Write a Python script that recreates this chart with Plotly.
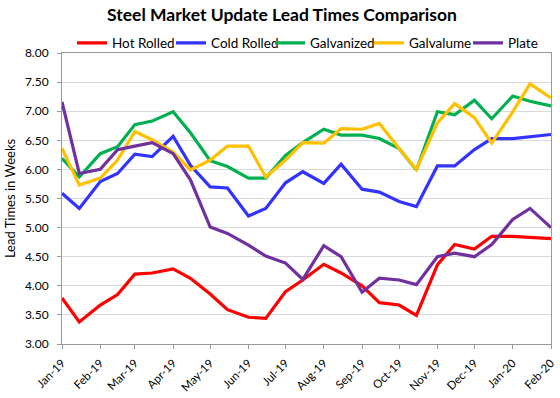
import plotly.graph_objects as go

dates = [
    "2019-01-01", "2019-01-15", "2019-02-01", "2019-02-15", "2019-03-01", "2019-03-15",
    "2019-04-01", "2019-04-15", "2019-05-01", "2019-05-15", "2019-06-01", "2019-06-15",
    "2019-07-01", "2019-07-15", "2019-08-01", "2019-08-15", "2019-09-01", "2019-09-15",
    "2019-10-01", "2019-10-15", "2019-11-01", "2019-11-15", "2019-12-01", "2019-12-15",
    "2020-01-01", "2020-01-15", "2020-02-01",
]

hot_rolled = [3.79, 3.38, 3.67, 3.85, 4.20, 4.22, 4.29, 4.13, 3.86, 3.59, 3.46, 3.44,
              3.90, 4.10, 4.37, 4.22, 4.00, 3.71, 3.67, 3.49, 4.36, 4.71, 4.63, 4.85,
              4.85, 4.83, 4.81]
cold_rolled = [5.59, 5.33, 5.79, 5.93, 6.26, 6.22, 6.57, 6.07, 5.70, 5.68, 5.20, 5.33,
               5.77, 5.96, 5.76, 6.09, 5.66, 5.61, 5.45, 5.36, 6.06, 6.06, 6.34, 6.53,
               6.53, 6.56, 6.60]
galvanized = [6.19, 5.87, 6.27, 6.39, 6.77, 6.83, 6.99, 6.63, 6.15, 6.05, 5.85, 5.85,
              6.24, 6.46, 6.69, 6.59, 6.59, 6.53, 6.36, 5.99, 6.99, 6.94, 7.19, 6.87,
              7.26, 7.17, 7.09]
galvalume = [6.36, 5.73, 5.85, 6.16, 6.65, 6.51, 6.30, 5.99, 6.16, 6.40, 6.40, 5.87,
             6.16, 6.46, 6.45, 6.70, 6.69, 6.79, 6.36, 6.00, 6.80, 7.13, 6.89, 6.45,
             6.99, 7.47, 7.23]
plate = [7.16, 5.93, 6.00, 6.34, 6.40, 6.46, 6.27, 5.82, 5.01, 4.90, 4.70, 4.51,
         4.39, 4.11, 4.69, 4.50, 3.89, 4.13, 4.10, 4.02, 4.50, 4.56, 4.50, 4.71,
         5.14, 5.33, 5.00]

series = [
    ("Hot Rolled", hot_rolled, "#FF0000"),
    ("Cold Rolled", cold_rolled, "#3333FF"),
    ("Galvanized", galvanized, "#00B050"),
    ("Galvalume", galvalume, "#FFC000"),
    ("Plate", plate, "#7030A0"),
]

FONT = "Lato"
W, H = 560, 398
PL, PR, PT, PB = 62, 551, 53, 344  # plot-area edges in pixels

fig = go.Figure()
for name, vals, color in series:
    fig.add_trace(go.Scatter(x=dates, y=vals, name=name, mode="lines",
                             line=dict(color=color, width=3.2)))

fig.update_layout(
    width=W, height=H,
    margin=dict(l=0, r=0, t=0, b=0, autoexpand=False),
    paper_bgcolor="white", plot_bgcolor="white",
    font=dict(family=FONT, size=12, color="#000000"),
    title=dict(text="<b>Steel Market Update Lead Times Comparison</b>",
               x=282 / W, xanchor="center", y=1 - 15 / H, yanchor="middle",
               yref="container", font=dict(family=FONT, size=17.5, color="#000000")),
    legend=dict(orientation="h", x=72 / W, xanchor="left", y=1 - 43 / H, yanchor="middle",
                font=dict(family=FONT, size=13.5), itemwidth=30,
                entrywidth=54, entrywidthmode="pixels",
                bgcolor="rgba(0,0,0,0)", tracegroupgap=0),
    showlegend=True,
)

fig.update_xaxes(
    type="date", range=["2019-01-01", "2020-02-01"], automargin=False,
    domain=[PL / W, PR / W],
    dtick="M1", tick0="2019-01-01", tickformat="%b-%y", tickangle=-45,
    ticks="outside", ticklen=4, tickcolor="#999999",
    showline=True, linecolor="#999999", linewidth=1, mirror=True,
    showgrid=False, zeroline=False, ticklabelshift=0, ticklabelstandoff=3,
    tickfont=dict(family=FONT, size=11.5, color="#000000"),
)
fig.update_yaxes(
    range=[3, 8], dtick=0.5, tick0=3, tickformat=".2f", automargin=False,
    domain=[1 - PB / H, 1 - PT / H],
    ticks="outside", ticklen=4, tickcolor="#999999",
    showline=True, linecolor="#999999", linewidth=1, mirror=True,
    showgrid=True, gridcolor="#D9D9D9", gridwidth=1, zeroline=False,
    ticklabelstandoff=6,
    tickfont=dict(family=FONT, size=12, color="#000000"),
    title=dict(text="Lead Times in Weeks", font=dict(family=FONT, size=13, color="#000000"),
               standoff=6),
)

fig.write_html("out.html", config={"displayModeBar": False},
               post_script="document.body.style.margin='0';")
